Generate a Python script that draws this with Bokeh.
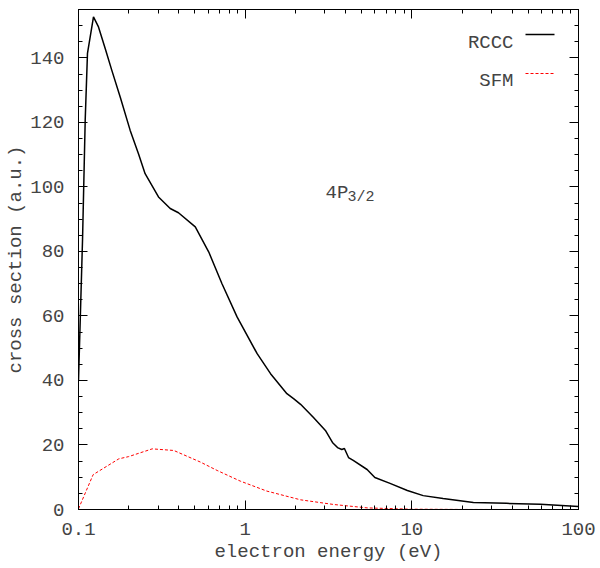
import math
from bokeh.plotting import figure
from bokeh.models import (Range1d, FixedTicker, SingleIntervalTicker, LogAxis,
                          LinearAxis, Label, Arrow, CustomJSTickFormatter)
from bokeh.embed import file_html
from bokeh.resources import INLINE

# ---------------- data ----------------
rccc_x = [0.1, 0.1057, 0.1097, 0.1132, 0.123, 0.1318, 0.1446, 0.1583, 0.1779,
          0.204, 0.229, 0.251, 0.302, 0.355, 0.398, 0.502, 0.605, 0.726, 0.894,
          1.18, 1.42, 1.78, 1.96, 2.15, 2.57, 3.03, 3.34, 3.58, 3.8, 3.94, 4.17,
          4.45, 5.39, 6.0, 7.4, 9.4, 11.7, 15.4, 23.4, 37.0, 59.0, 100.0]
rccc_y = [40.0, 83.4, 120.7, 141.4, 152.7, 149.6, 142.9, 136.2, 127.9,
          117.6, 110.3, 104.1, 96.9, 93.3, 92.0, 87.6, 79.8, 70.0, 59.7,
          48.3, 42.1, 35.9, 34.3, 32.6, 28.5, 24.5, 20.8, 19.2, 18.6, 18.9, 16.1,
          15.2, 12.4, 9.9, 8.1, 5.9, 4.3, 3.4, 2.2, 1.9, 1.6, 0.9]

sfm_x = [0.1, 0.1224, 0.1745, 0.2, 0.277, 0.373, 0.539, 0.679, 0.935, 1.35,
         2.15, 3.4, 5.39, 9.8, 20.0, 50.0, 100.0]
sfm_y = [0.2, 10.8, 15.7, 16.4, 18.8, 18.3, 14.7, 12.1, 8.8, 5.7,
         3.0, 1.55, 0.5, 0.1, 0.02, 0.0, 0.0]

x_major = [0.1, 1, 10, 100]
x_minor = [k * 10.0 ** e for e in (-1, 0, 1) for k in range(2, 10)]

x_label = "electron energy (eV)"
y_label = "cross section (a.u.)"
series_names = ["RCCC", "SFM"]
annot_main = "4P"
annot_sub = "3/2"

FONT = "Liberation Mono"
TXT = "#444444"
FS = "19px"

p = figure(width=600, height=568, x_axis_type="log",
           x_range=Range1d(0.1, 100), y_range=Range1d(0, 155),
           output_backend="svg", toolbar_location=None,
           min_border_left=78, min_border_right=22,
           min_border_top=9, min_border_bottom=59)
p.background_fill_color = "white"
p.border_fill_color = "white"
p.outline_line_color = "black"
p.xgrid.grid_line_color = None
p.ygrid.grid_line_color = None

xt = FixedTicker(ticks=x_major, minor_ticks=x_minor)
yt = SingleIntervalTicker(interval=20, num_minor_ticks=4)


def style(ax, labels=True):
    ax.axis_line_color = "black"
    ax.major_tick_line_color = "black"
    ax.minor_tick_line_color = "black"
    ax.major_tick_in = 9
    ax.major_tick_out = 0
    ax.minor_tick_in = 4
    ax.minor_tick_out = 0
    if labels:
        ax.major_label_text_font = FONT
        ax.major_label_text_font_size = FS
        ax.major_label_text_color = TXT
        ax.axis_label_text_font = FONT
        ax.axis_label_text_font_size = FS
        ax.axis_label_text_color = TXT
        ax.axis_label_text_font_style = "normal"
    else:
        ax.major_label_text_font_size = "0px"
        ax.major_label_standoff = 0
        ax.formatter = CustomJSTickFormatter(code="return '';")


xa = p.xaxis[0]
xa.ticker = xt
xa.formatter = CustomJSTickFormatter(code="return tick.toString();")
style(xa)
xa.major_label_standoff = 13
xa.axis_label = x_label
xa.axis_label_standoff = 3

ya = p.yaxis[0]
ya.ticker = yt
style(ya)
ya.major_label_standoff = 14
ya.axis_label = y_label
ya.axis_label_standoff = 0

top = LogAxis(ticker=xt)
style(top, labels=False)
p.add_layout(top, "above")
right = LinearAxis(ticker=yt)
style(right, labels=False)
p.add_layout(right, "right")

p.line(rccc_x, rccc_y, line_color="black", line_width=1.5)
p.line(sfm_x, sfm_y, line_color="red", line_width=1, line_dash="3 2")

# legend (text left of sample, as in reference)
p.add_layout(Label(x=435, y=467, x_units="screen", y_units="screen",
                   text=series_names[0], text_align="right",
                   text_baseline="alphabetic", text_font=FONT,
                   text_font_size=FS, text_color=TXT))
p.add_layout(Arrow(end=None, x_start=447, y_start=475, x_end=476, y_end=475,
                   start_units="screen", end_units="screen",
                   line_color="black", line_width=1.5))
p.add_layout(Label(x=435, y=429, x_units="screen", y_units="screen",
                   text=series_names[1], text_align="right",
                   text_baseline="alphabetic", text_font=FONT,
                   text_font_size=FS, text_color=TXT))
p.add_layout(Arrow(end=None, x_start=447, y_start=436, x_end=476, y_end=436,
                   start_units="screen", end_units="screen",
                   line_color="red", line_width=1, line_dash="3 2"))

# annotation 4P_{3/2}
p.add_layout(Label(x=247, y=317, x_units="screen", y_units="screen",
                   text=annot_main, text_baseline="alphabetic",
                   text_font=FONT, text_font_size=FS, text_color=TXT))
p.add_layout(Label(x=269, y=312, x_units="screen", y_units="screen",
                   text=annot_sub, text_baseline="alphabetic",
                   text_font=FONT, text_font_size="15px", text_color=TXT))

open("out.html", "w").write(file_html(p, INLINE))
